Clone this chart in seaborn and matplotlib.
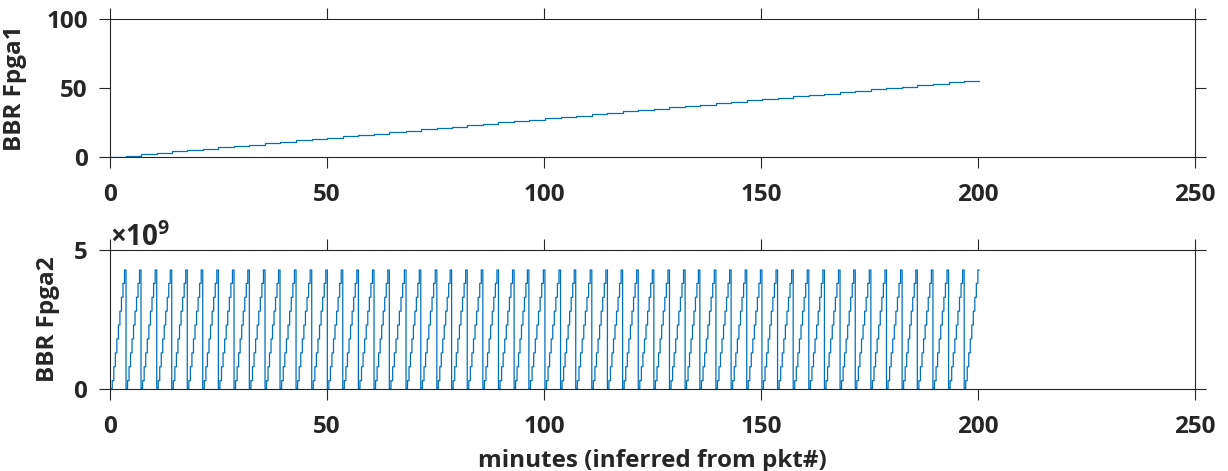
import numpy as np
import pandas as pd
import matplotlib
matplotlib.use("Agg")
import matplotlib.pyplot as plt
import seaborn as sns
from matplotlib.ticker import ScalarFormatter

# ---------------- data ----------------
start_min = 0.16
end_min = 200.3
# minutes at which the lower counter (Fpga2) wraps / Fpga1 increments
wrap_minutes = [3.69, 7.14, 10.76, 14.22, 17.80, 21.36, 24.96, 28.57, 32.10, 35.71,
                39.17, 42.86, 46.47, 50.07, 53.62, 57.22, 60.83, 64.35,
                68.20, 71.60, 75.30, 78.70, 82.30, 85.90, 89.50, 93.10, 96.50,
                100.20, 103.80, 107.30, 111.00, 114.60, 118.10, 121.70, 125.30, 128.90,
                132.50, 135.90, 139.60, 143.10, 146.70, 150.20, 153.80, 157.40, 161.00,
                164.60, 168.20, 171.70, 175.30, 178.90, 182.50, 186.00, 189.60, 193.20,
                196.80]
# Fpga1 level after each wrap (starts at 0)
fpga1_values = [0, 1, 2, 3, 4, 5, 6, 7, 8, 9, 10, 11, 12, 13, 14, 15, 16, 17, 18, 19,
                20, 21, 22, 23, 24, 25, 26, 27, 28, 29, 30, 31, 32, 33, 34, 35, 36, 37,
                38, 39, 40, 41, 42, 43, 44, 45, 46, 47, 48, 49, 50, 51, 52, 53, 54, 55]
# staircase levels sampled inside one Fpga2 tooth
tooth_levels = [0.02e9, 0.30e9, 0.80e9, 1.30e9, 1.80e9, 2.30e9, 2.80e9, 3.30e9, 3.80e9, 4.28e9]

x_ticks = [0, 50, 100, 150, 200, 250]
fpga1_yticks = [0, 50, 100]
fpga2_yticks = [0, 5e9]

# ---------------- build tables ----------------
top_df = pd.DataFrame({
    "minutes": [start_min] + wrap_minutes + [end_min],
    "value": fpga1_values + [fpga1_values[-1]],
})

bounds = [start_min] + wrap_minutes + [end_min]
rows_t, rows_v = [], []
n_lv = len(tooth_levels)
for s, e in zip(bounds[:-1], bounds[1:]):
    for j, lv in enumerate(tooth_levels):
        rows_t.append(s + (e - s) * j / n_lv)
        rows_v.append(lv)
rows_t.append(end_min)
rows_v.append(tooth_levels[-1])
bot_df = pd.DataFrame({"minutes": rows_t, "value": rows_v})

# ---------------- style ----------------
sns.set_theme(style="white")
FONT = "Open Sans"
plt.rcParams["font.family"] = [FONT, "DejaVu Sans"]
plt.rcParams["font.weight"] = "bold"
plt.rcParams["axes.labelweight"] = "bold"
plt.rcParams["mathtext.fontset"] = "custom"
plt.rcParams["mathtext.rm"] = FONT + ":bold"
plt.rcParams["mathtext.bf"] = FONT + ":bold"
plt.rcParams["mathtext.it"] = FONT + ":bold"
plt.rcParams["mathtext.default"] = "regular"

TXT = "#262626"
LINE = "#0072BD"

fig = plt.figure(figsize=(12.28, 4.71), dpi=100)
ax1 = fig.add_axes([0.0896, 0.6667, 0.8836, 0.2930])
ax2 = fig.add_axes([0.0896, 0.1741, 0.8836, 0.2951])

sns.lineplot(data=top_df, x="minutes", y="value", ax=ax1, color=LINE, lw=0.9,
             drawstyle="steps-post", estimator=None, sort=False)
sns.lineplot(data=bot_df, x="minutes", y="value", ax=ax2, color=LINE, lw=0.9,
             drawstyle="steps-post", estimator=None, sort=False)

for ax, yt in ((ax1, fpga1_yticks), (ax2, fpga2_yticks)):
    ax.set_xlim(x_ticks[0], x_ticks[-1])
    ax.set_ylim(yt[0], yt[-1])
    ax.set_xticks(x_ticks)
    ax.set_yticks(yt)
    for sp in ax.spines.values():
        sp.set_visible(True)
        sp.set_color(TXT)
        sp.set_linewidth(0.8)
    ax.tick_params(axis="both", direction="out", length=8, width=0.8, colors=TXT,
                   labelsize=17.5, top=True, right=True, bottom=True, left=True,
                   labeltop=False, labelright=False)
    ax.tick_params(axis="x", pad=11)
    ax.tick_params(axis="y", pad=8)
    for lab in ax.get_xticklabels() + ax.get_yticklabels():
        lab.set_fontweight("bold")
    ax.set_xlabel("")

fmt = ScalarFormatter(useMathText=True)
fmt.set_powerlimits((0, 0))
ax2.yaxis.set_major_formatter(fmt)
off = ax2.yaxis.get_offset_text()
off.set_fontsize(20)
off.set_color(TXT)
off.set_fontweight("bold")

ax1.set_ylabel("BBR Fpga1", fontsize=17.5, fontweight="bold", color=TXT)
ax2.set_ylabel("BBR Fpga2", fontsize=17.5, fontweight="bold", color=TXT)
ax1.yaxis.set_label_coords(-0.0765, 0.5)
ax2.yaxis.set_label_coords(-0.0461, 0.5)
ax2.set_xlabel("minutes (inferred from pkt#)", fontsize=17.5, fontweight="bold", color=TXT,
               labelpad=7)

fig.savefig("out.png", dpi=100, facecolor="white")
